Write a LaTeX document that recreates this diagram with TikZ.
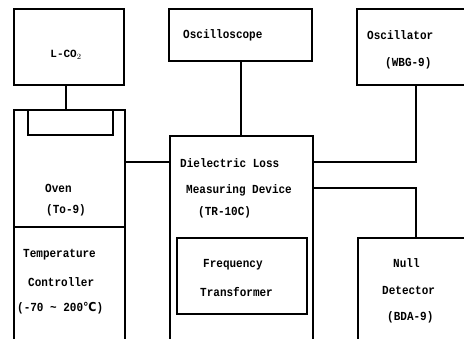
\documentclass[tikz,border=0pt]{standalone}
\usepackage{fontspec}
\newfontfamily\twfont{Liberation Mono}
\newfontfamily\symfont{DejaVu Sans}
\begin{document}
\begin{tikzpicture}[x=1pt,y=-1pt,
  box/.style={draw, line width=1.2pt, inner sep=0pt, outer sep=0pt, anchor=north west},
  conn/.style={line width=1.2pt},
  lbl/.style={inner sep=0pt, anchor=west, font=\twfont\bfseries\fontsize{11}{12}\selectfont}]
\useasboundingbox (0,0) rectangle (464,339);
\clip (0,0) rectangle (464,339);
% boxes
\node[box, minimum width=110pt, minimum height=76pt] (lco) at (14,9) {};
\node[box, minimum width=111pt, minimum height=117pt] (oven) at (14,110) {};
\node[box, minimum width=85pt, minimum height=25pt] (tray) at (28,110) {};
\node[box, minimum width=111pt, minimum height=116pt] (ctrl) at (14,227) {};
\node[box, minimum width=143pt, minimum height=52pt] (scope) at (169,9) {};
\node[box, minimum width=115pt, minimum height=76pt] (oscr) at (357,9) {};
\node[box, minimum width=143pt, minimum height=207pt] (dlmd) at (170,136) {};
\node[box, minimum width=130pt, minimum height=76pt] (freq) at (177,238) {};
\node[box, minimum width=115pt, minimum height=105pt] (null) at (358,238) {};
% labels
\node[lbl, anchor=center] (tlco) at (66,55) {L-CO$_2$};
\node[lbl] (tscope) at (183,35) {\scalebox{1}[1.12]{Oscilloscope}};
\node[lbl] (toscr1) at (367,35) {\scalebox{1}[1.12]{Oscillator}};
\node[lbl] (toscr2) at (385,63) {\scalebox{1}[1.12]{(WBG-9)}};
\node[lbl] (toven1) at (45,188) {\scalebox{1}[1.12]{Oven}};
\node[lbl] (toven2) at (46,210) {\scalebox{1}[1.12]{(To-9)}};
\node[lbl] (tctrl1) at (23,255) {\scalebox{1}[1.12]{Temperature}};
\node[lbl] (tctrl2) at (28,282) {\scalebox{1}[1.12]{Controller}};
\node[lbl] (tctrl3) at (17,308) {\scalebox{1}[1.12]{(-70 \string~ 200{\symfont ℃})}};
\node[lbl] (tdl1) at (180,163) {\scalebox{1}[1.12]{Dielectric Loss}};
\node[lbl] (tdl2) at (186,190) {\scalebox{1}[1.12]{Measuring Device}};
\node[lbl] (tdl3) at (198,212) {\scalebox{1}[1.12]{(TR-10C)}};
\node[lbl] (tfr1) at (203,265) {\scalebox{1}[1.12]{Frequency}};
\node[lbl] (tfr2) at (200,292) {\scalebox{1}[1.12]{Transformer}};
\node[lbl] (tnu1) at (393,263) {\scalebox{1}[1.12]{Null}};
\node[lbl] (tnu2) at (382,290) {\scalebox{1}[1.12]{Detector}};
\node[lbl] (tnu3) at (387,317) {\scalebox{1}[1.12]{(BDA-9)}};
% connectors
\coordinate (a) at (66,0);
\coordinate (b) at (241,0);
\coordinate (j1) at (0,162);
\coordinate (c1) at (416,162);
\coordinate (c2) at (416,188);
\draw[conn] (a |- lco.south) -- (a |- oven.north);
\draw[conn] (b |- scope.south) -- (b |- dlmd.north);
\draw[conn] (j1 -| oven.east) -- (j1 -| dlmd.west);
\draw[conn] (c1 |- oscr.south) -- (c1) -- (c1 -| dlmd.east);
\draw[conn] (c2 -| dlmd.east) -- (c2) -- (c2 |- null.north);
\end{tikzpicture}
\end{document}
